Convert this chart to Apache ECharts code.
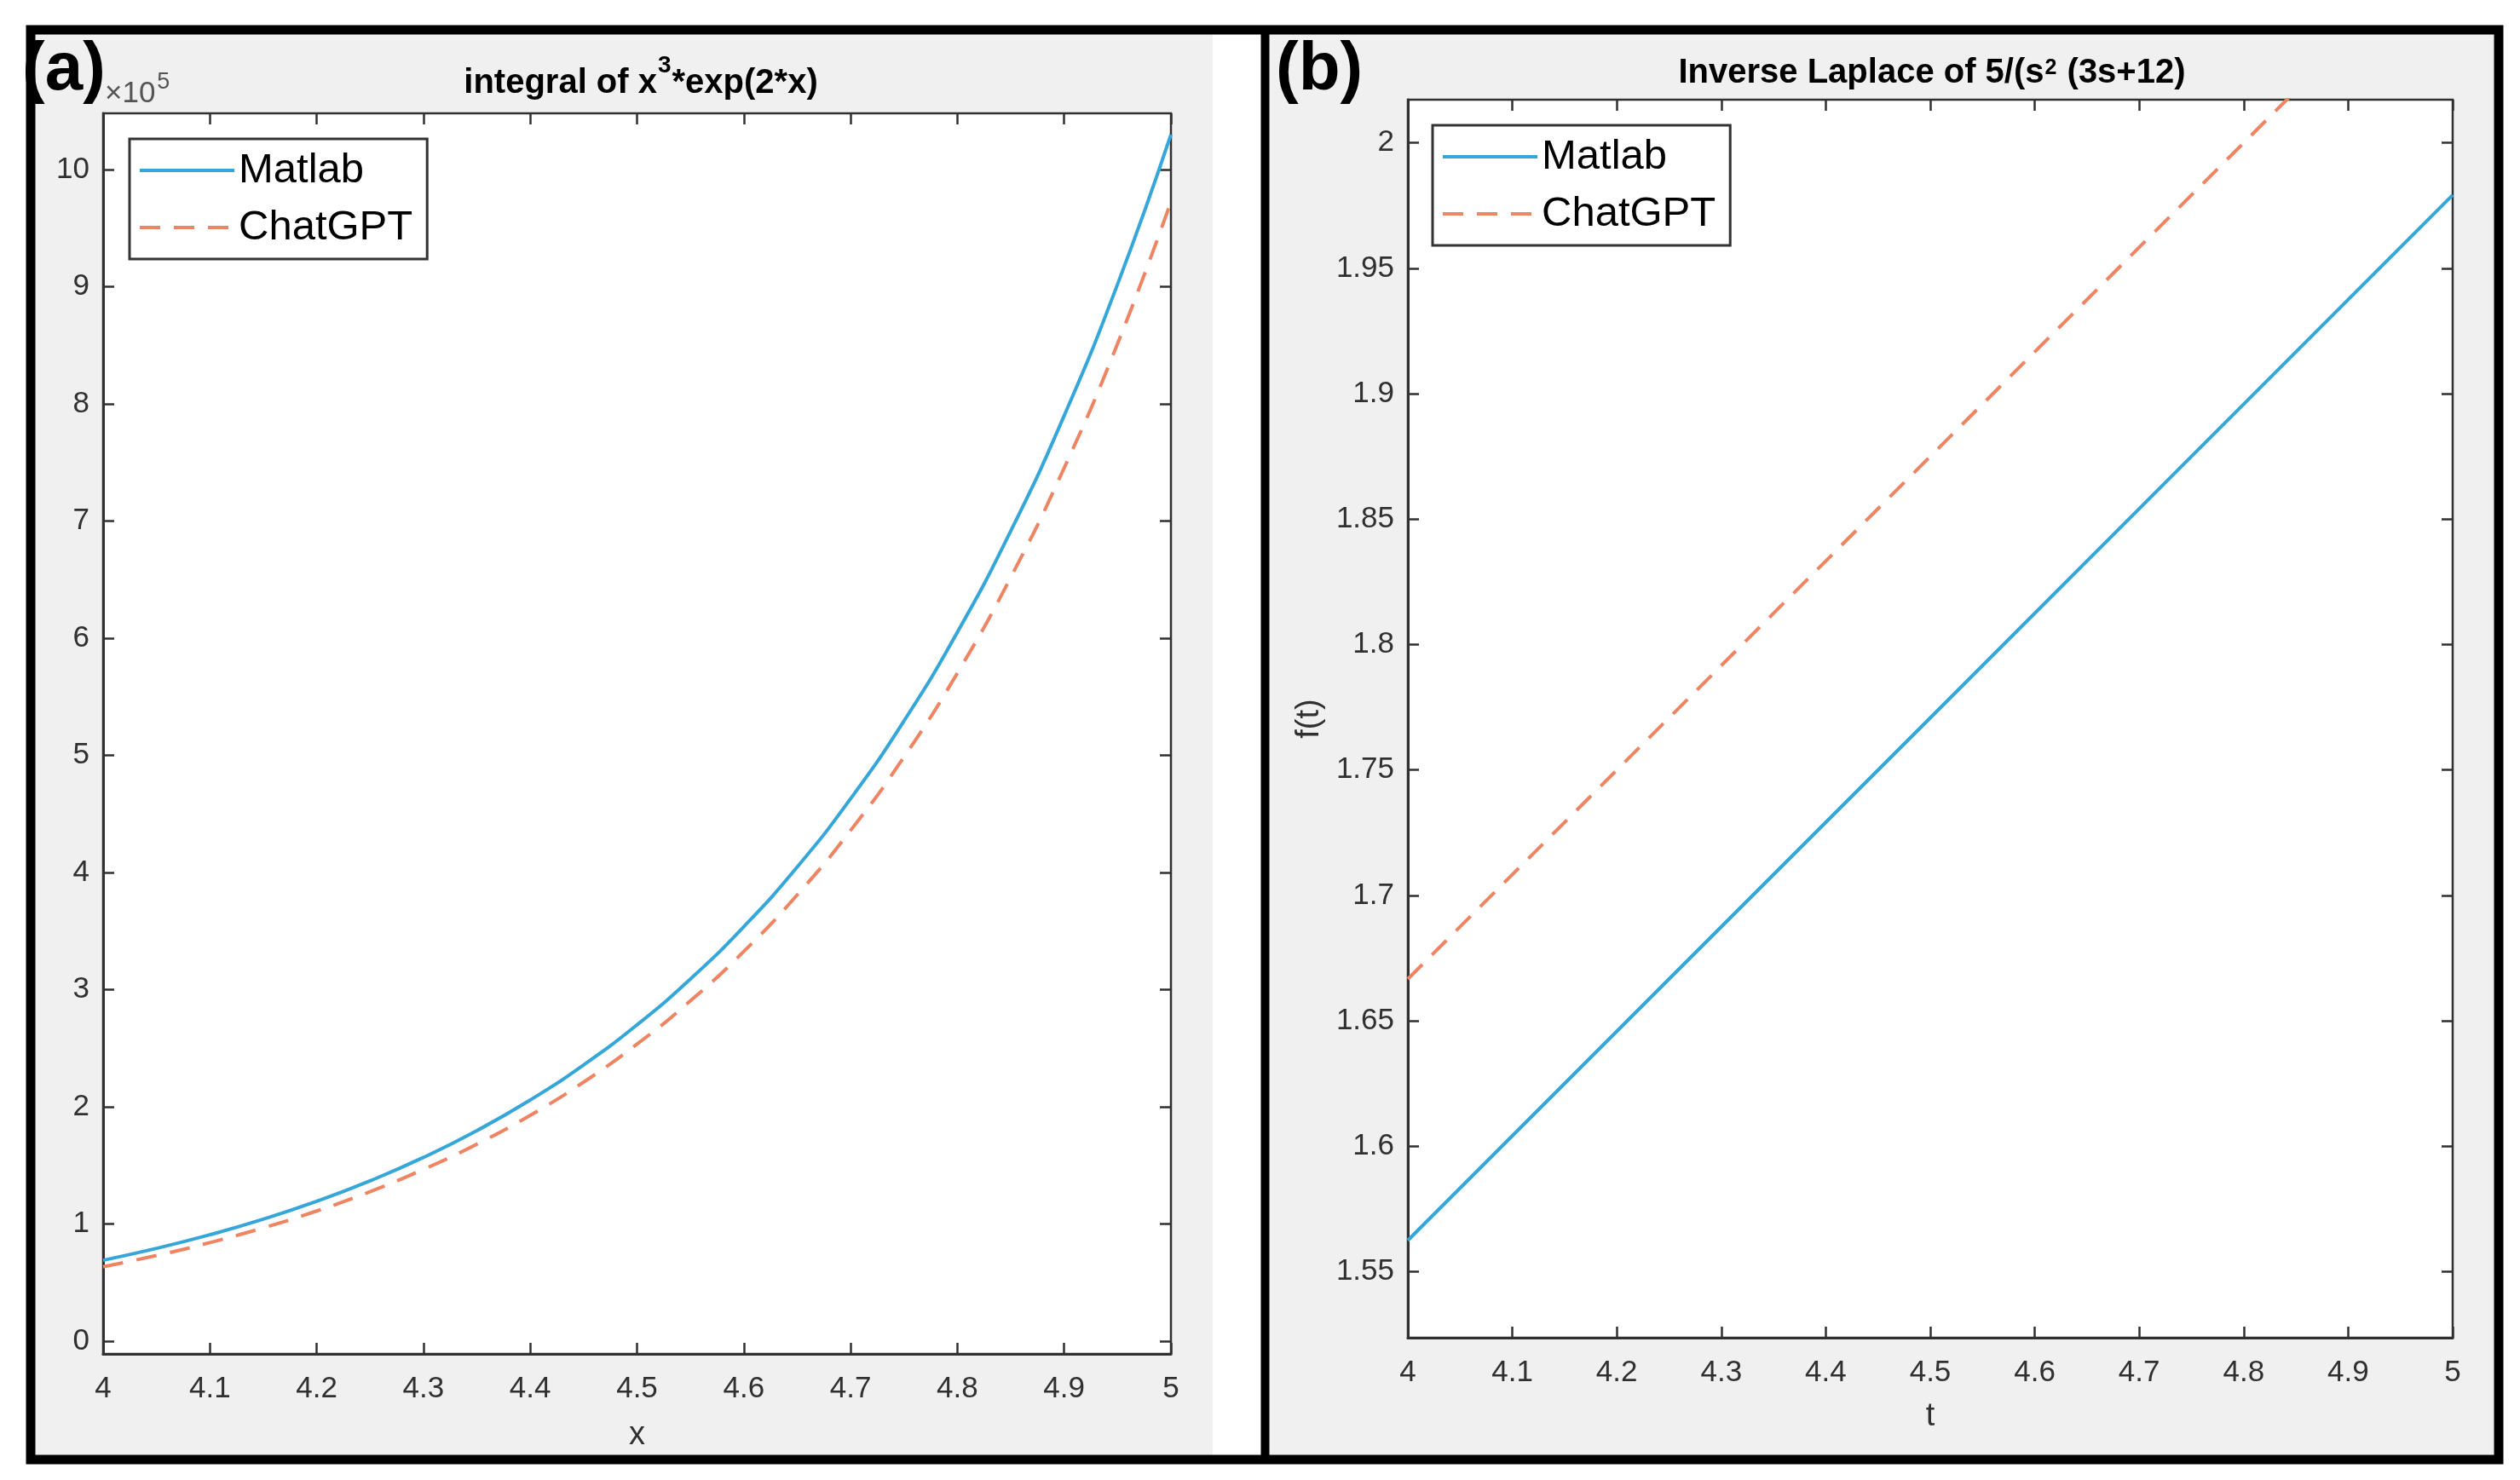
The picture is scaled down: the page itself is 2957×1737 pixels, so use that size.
<!DOCTYPE html>
<html>
<head>
<meta charset="utf-8">
<script src="https://cdn.jsdelivr.net/npm/echarts@6/dist/echarts.min.js"></script>
<style>
html,body{margin:0;padding:0;background:#fff;}
#c{width:2957px;height:1737px;}
</style>
</head>
<body>
<div id="c"></div>
<script>
// ---- Panel (a): integral of x^3*exp(2*x), values in units of 10^5 ----
const xA = [4.00,4.05,4.10,4.15,4.20,4.25,4.30,4.35,4.40,4.45,4.50,4.55,4.60,4.65,4.70,4.75,4.80,4.85,4.90,4.95,5.00];
const matlabA = [0.690,0.792,0.908,1.041,1.193,1.368,1.568,1.797,2.058,2.358,2.700,3.091,3.538,4.047,4.630,5.294,6.051,6.915,7.899,9.021,10.299];
const chatA = [0.635,0.731,0.841,0.967,1.111,1.276,1.466,1.681,1.928,2.211,2.535,2.905,3.326,3.809,4.359,4.986,5.703,6.520,7.453,8.514,9.725];
const yTicksA = [0,1,2,3,4,5,6,7,8,9,10];

// ---- Panel (b): inverse Laplace of 5/(s^2 (3s+12)) ----
const tB = [4.00,4.25,4.50,4.75,5.00];
const matlabB = [1.5625,1.6667,1.7708,1.8750,1.9792];
const chatB = [1.6667,1.7708,1.8750,1.9792,2.0833];
const yTicksB = [1.55,1.6,1.65,1.7,1.75,1.8,1.85,1.9,1.95,2];

const seriesNames = ['Matlab','ChatGPT'];
const titleA = ['integral of x','3','*exp(2*x)'];
const titleB = ['Inverse Laplace of 5/(s','2',' (3s+12)'];

const FONT = '"Liberation Sans", Arial, Helvetica, sans-serif';
const AX = '#303030';
const BLUE = '#35a6da';
const ORANGE = '#ef8462';
const LW = 4;

function pairs(xs, ys){ return xs.map((x,i)=>[x, ys[i]]); }

const mctx = document.createElement('canvas').getContext('2d');
function textW(str, size, weight){
  mctx.font = (weight||'normal') + ' ' + size + 'px ' + FONT;
  return mctx.measureText(str).width;
}

function xAxisPair(grid, name, nameGap){
  const common = {
    gridIndex: grid, type:'value', min:4, max:5, interval:0.1,
    splitLine:{show:false},
    axisTick:{show:true, inside:true, length:13, lineStyle:{color:AX, width:2.5}}
  };
  return [
    Object.assign({}, common, {
      position:'bottom', name:name, nameLocation:'middle', nameGap:nameGap,
      nameTextStyle:{fontSize:38, color:AX, fontFamily:FONT},
      axisLine:{show:true, onZero:false, lineStyle:{color:AX, width:3}},
      axisLabel:{show:true, margin:24, fontSize:35, color:AX, fontFamily:FONT,
        formatter:v=>String(Math.round(v*10)/10)}
    }),
    Object.assign({}, common, {
      position:'top',
      axisLine:{show:false, onZero:false},
      axisLabel:{show:false}
    })
  ];
}

function yAxisPair(grid, min, max, ticks, fmt, name, nameGap){
  const common = {
    gridIndex: grid, type:'value', min:min, max:max,
    splitLine:{show:false}
  };
  return [
    Object.assign({}, common, {
      position:'left', name:name, nameLocation:'middle', nameGap:nameGap, nameRotate:90,
      nameTextStyle:{fontSize:38, color:AX, fontFamily:FONT},
      axisLine:{show:true, onZero:false, lineStyle:{color:AX, width:3}},
      axisTick:{show:true, inside:true, length:13, customValues:ticks, lineStyle:{color:AX, width:2.5}},
      axisLabel:{show:true, margin:16, fontSize:35, color:AX, fontFamily:FONT, customValues:ticks, formatter:fmt}
    }),
    Object.assign({}, common, {
      position:'right',
      axisLine:{show:false, onZero:false},
      axisTick:{show:true, inside:true, length:13, customValues:ticks, lineStyle:{color:AX, width:2.5}},
      axisLabel:{show:false, customValues:ticks}
    })
  ];
}

function legendAt(left, top){
  return {
    data: seriesNames, orient:'vertical', left:left, top:top,
    padding:[12,17,12,10], itemWidth:111, itemHeight:20, itemGap:17,
    backgroundColor:'#fff', borderColor:'#333', borderWidth:3, borderRadius:0,
    selectedMode:false,
    itemStyle:{opacity:0},
    lineStyle:{width:LW},
    textStyle:{fontSize:49, lineHeight:50, color:'#000', fontFamily:FONT}
  };
}

function lineSeries(name, xi, yi, data, color, dashed, smooth){
  return {
    type:'line', name:name, xAxisIndex:xi, yAxisIndex:yi, data:data,
    showSymbol:false, symbol:'none', smooth:smooth, clip:true,
    lineStyle:{color:color, width:LW, type: dashed ? [24,16] : 'solid'},
    itemStyle:{color:color}, z:3
  };
}

// title with a raised superscript: three left-aligned pieces placed side by side
function titleParts(parts, cx, y, supSize, supY){
  const w1 = textW(parts[0], 40, 'bold');
  const w2 = textW(parts[1], supSize, 'bold');
  const w3 = textW(parts[2], 40, 'bold');
  const x0 = cx - (w1 + w2 + w3) / 2;
  const base = {fontFamily:FONT, fontWeight:'bold', fill:'#000', align:'left', verticalAlign:'middle'};
  return [
    {type:'text', z:50, style:Object.assign({}, base, {text:parts[0], x:x0, y:y, fontSize:40})},
    {type:'text', z:50, style:Object.assign({}, base, {text:parts[1], x:x0 + w1 + 1, y:supY, fontSize:supSize})},
    {type:'text', z:50, style:Object.assign({}, base, {text:parts[2], x:x0 + w1 + w2 + 2, y:y, fontSize:40})}
  ];
}

const w10 = textW('\u00d710', 35, 'normal');

const chart = echarts.init(document.getElementById('c'), null, {renderer:'canvas'});
chart.setOption({
  animation:false,
  backgroundColor:'#fff',
  textStyle:{fontFamily:FONT},
  grid:[
    {left:121, top:133, width:1253, height:1456, show:true, backgroundColor:'#fff', borderColor:AX, borderWidth:2.5, containLabel:false},
    {left:1652, top:117, width:1226, height:1453, show:true, backgroundColor:'#fff', borderColor:AX, borderWidth:2.5, containLabel:false}
  ],
  xAxis: [].concat(xAxisPair(0,'x',77), xAxisPair(1,'t',74)),
  yAxis: [].concat(
    yAxisPair(0,-0.109,10.48,yTicksA,v=>String(Math.round(v)),'',40),
    yAxisPair(1,1.5237,2.0172,yTicksB,v=>String(Math.round(v*100)/100),'f(t)',96)
  ),
  legend:[legendAt(152,163), legendAt(1681,147)],
  series:[
    lineSeries(seriesNames[0],0,0,pairs(xA,matlabA),BLUE,false,true),
    lineSeries(seriesNames[1],0,0,pairs(xA,chatA),ORANGE,true,true),
    lineSeries(seriesNames[0],2,2,pairs(tB,matlabB),BLUE,false,false),
    lineSeries(seriesNames[1],2,2,pairs(tB,chatB),ORANGE,true,false)
  ],
  graphic:[
    {type:'rect', z:-10, shape:{x:41,y:40,width:1382,height:1668}, style:{fill:'#f0f0f0'}},
    {type:'rect', z:-10, shape:{x:1489,y:40,width:1437,height:1668}, style:{fill:'#f0f0f0'}},
    {type:'rect', z:100, shape:{x:36,y:35,width:2896,height:1678}, style:{fill:'none', stroke:'#000', lineWidth:11}},
    {type:'line', z:100, shape:{x1:1484.5,y1:35,x2:1484.5,y2:1713}, style:{stroke:'#000', lineWidth:10}},
    {type:'text', z:101, style:{text:'(a)', x:26, y:83, fontSize:80, fontWeight:'bold', fontFamily:FONT, fill:'#000', align:'left', verticalAlign:'middle'}},
    {type:'text', z:101, style:{text:'(b)', x:1497, y:83, fontSize:80, fontWeight:'bold', fontFamily:FONT, fill:'#000', align:'left', verticalAlign:'middle'}},
    {type:'text', z:50, style:{text:'\u00d710', x:123, y:110, fontSize:35, fontFamily:FONT, fill:'#555', align:'left', verticalAlign:'middle'}},
    {type:'text', z:50, style:{text:'5', x:123 + w10 + 2, y:97, fontSize:27, fontFamily:FONT, fill:'#555', align:'left', verticalAlign:'middle'}}
  ].concat(
    titleParts(titleA, 751, 98, 28, 77),
    titleParts(titleB, 2266, 86, 25, 80)
  )
});
</script>
</body>
</html>
